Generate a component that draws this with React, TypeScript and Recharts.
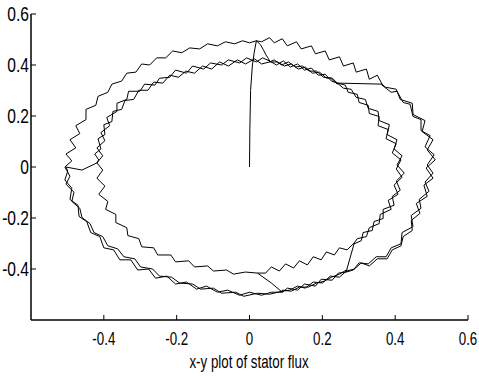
import { LineChart, Line, XAxis, YAxis } from "recharts";

type Pt = [number, number];

// tick values
const xTicks = [-0.4, -0.2, 0, 0.2, 0.4, 0.6];
const yTicks = [-0.4, -0.2, 0, 0.2, 0.4, 0.6];
const xTitle = "x-y plot of stator flux";

// stator flux locus (x = psi_alpha, y = psi_beta)
const startUp: Pt[] = [[0, 0], [0.001, 0.15], [0.003, 0.3], [0.008, 0.4], [0.013, 0.45], [0.019, 0.495]];

const outerTopLeft: Pt[] = [
  [0.019, 0.495], [0.0, 0.487], [-0.019, 0.495], [-0.041, 0.483], [-0.066, 0.491], [-0.088, 0.475],
  [-0.115, 0.483], [-0.137, 0.463], [-0.164, 0.467], [-0.186, 0.448], [-0.211, 0.455], [-0.23, 0.428],
  [-0.255, 0.428], [-0.274, 0.4], [-0.296, 0.404], [-0.312, 0.372], [-0.337, 0.368], [-0.351, 0.337],
  [-0.378, 0.325], [-0.389, 0.293], [-0.416, 0.277], [-0.422, 0.242], [-0.449, 0.226], [-0.449, 0.186],
  [-0.477, 0.162], [-0.466, 0.131], [-0.493, 0.107], [-0.477, 0.075], [-0.504, 0.051], [-0.488, 0.024],
  [-0.507, 0.0],
];

const outerLowerLeft1: Pt[] = [
  [-0.493, -0.036], [-0.504, -0.067], [-0.482, -0.099], [-0.488, -0.135], [-0.466, -0.162], [-0.46, -0.198],
  [-0.438, -0.222], [-0.427, -0.257], [-0.403, -0.273], [-0.389, -0.309], [-0.362, -0.321], [-0.345, -0.352],
  [-0.315, -0.36], [-0.299, -0.392], [-0.266, -0.4], [-0.247, -0.428], [-0.214, -0.432], [-0.192, -0.455],
  [-0.156, -0.459], [-0.134, -0.479], [-0.099, -0.475], [-0.077, -0.495], [-0.038, -0.491], [-0.016, -0.507],
  [0.022, -0.495], [0.055, -0.499], [0.09, -0.487],
];

const outerLowerLeft2: Pt[] = [
  [0.09, -0.491], [0.06, -0.491], [0.033, -0.503], [0.0, -0.491], [-0.027, -0.503], [-0.06, -0.483],
  [-0.088, -0.491], [-0.118, -0.467], [-0.145, -0.479], [-0.173, -0.451], [-0.203, -0.459], [-0.227, -0.428],
  [-0.258, -0.436], [-0.277, -0.4], [-0.307, -0.404], [-0.326, -0.364], [-0.356, -0.364], [-0.373, -0.325],
  [-0.4, -0.317], [-0.411, -0.273], [-0.436, -0.257], [-0.447, -0.214], [-0.468, -0.194], [-0.471, -0.15],
  [-0.493, -0.127], [-0.488, -0.083], [-0.507, -0.051], [-0.499, -0.016], [-0.504, 0.0],
];

const outerBottom1: Pt[] = [
  [0.11, -0.483], [0.132, -0.467], [0.153, -0.475], [0.175, -0.451], [0.2, -0.455], [0.222, -0.428],
  [0.247, -0.432], [0.266, -0.408],
];
const outerBottom2: Pt[] = [
  [0.266, -0.412], [0.244, -0.416], [0.227, -0.444], [0.197, -0.44], [0.181, -0.467], [0.151, -0.459],
  [0.132, -0.483], [0.104, -0.475], [0.09, -0.491],
];
const outerBottom3: Pt[] = [
  [0.266, -0.404], [0.247, -0.42], [0.225, -0.432], [0.205, -0.448], [0.184, -0.455], [0.162, -0.471],
  [0.137, -0.471], [0.115, -0.487], [0.09, -0.483],
];

const outerRight1: Pt[] = [
  [0.288, -0.4], [0.307, -0.376], [0.329, -0.388], [0.351, -0.36], [0.378, -0.36], [0.392, -0.325],
  [0.416, -0.309], [0.422, -0.273], [0.447, -0.249], [0.444, -0.21], [0.468, -0.182], [0.458, -0.143],
  [0.488, -0.115], [0.479, -0.071], [0.504, -0.044], [0.485, -0.004], [0.51, 0.028], [0.488, 0.067],
  [0.504, 0.107], [0.474, 0.139], [0.482, 0.182], [0.449, 0.206], [0.447, 0.25], [0.414, 0.265],
  [0.403, 0.305], [0.373, 0.313], [0.364, 0.325],
];
const outerRight2: Pt[] = [
  [0.364, 0.321], [0.389, 0.293], [0.405, 0.297], [0.422, 0.253], [0.441, 0.246], [0.449, 0.198],
  [0.471, 0.186], [0.471, 0.143], [0.496, 0.123], [0.482, 0.079], [0.507, 0.048], [0.488, 0.008],
  [0.504, -0.024], [0.482, -0.059], [0.493, -0.095], [0.466, -0.127], [0.471, -0.162], [0.444, -0.19],
  [0.449, -0.234], [0.419, -0.257], [0.416, -0.301], [0.389, -0.317], [0.375, -0.352], [0.348, -0.352],
  [0.326, -0.38], [0.301, -0.376], [0.285, -0.404], [0.266, -0.412],
];

const outerTopRight: Pt[] = [
  [0.351, 0.36], [0.329, 0.344], [0.321, 0.384], [0.293, 0.372], [0.285, 0.408], [0.258, 0.396],
  [0.247, 0.432], [0.219, 0.42], [0.208, 0.455], [0.181, 0.444], [0.17, 0.475], [0.142, 0.463],
  [0.129, 0.491], [0.104, 0.475], [0.09, 0.503], [0.068, 0.487], [0.055, 0.507], [0.033, 0.491],
  [0.019, 0.495],
];

const descent: Pt[] = [[0.03, 0.48], [0.038, 0.46], [0.045, 0.44], [0.052, 0.425], [0.055, 0.416]];

const innerTopRight1: Pt[] = [
  [0.074, 0.4], [0.093, 0.416], [0.112, 0.392], [0.132, 0.404], [0.151, 0.38], [0.17, 0.388],
  [0.189, 0.36], [0.208, 0.364], [0.225, 0.337], [0.241, 0.329],
];
const innerTopRight2: Pt[] = [
  [0.055, 0.412], [0.077, 0.412], [0.096, 0.396], [0.115, 0.404], [0.134, 0.384], [0.153, 0.392],
  [0.173, 0.368], [0.192, 0.372], [0.211, 0.349], [0.227, 0.349], [0.241, 0.329],
];
const innerTopRight3: Pt[] = [
  [0.241, 0.325], [0.222, 0.349], [0.203, 0.352], [0.184, 0.376], [0.164, 0.376], [0.145, 0.396],
  [0.126, 0.392], [0.107, 0.412], [0.088, 0.4], [0.068, 0.42], [0.055, 0.412],
];

const innerRight1: Pt[] = [
  [0.263, 0.321], [0.271, 0.293], [0.296, 0.285], [0.301, 0.253], [0.326, 0.242], [0.329, 0.21],
  [0.356, 0.198], [0.353, 0.162], [0.381, 0.147], [0.375, 0.111], [0.403, 0.091], [0.392, 0.055],
  [0.416, 0.028], [0.403, -0.008], [0.419, -0.04], [0.397, -0.071], [0.408, -0.107], [0.381, -0.131],
  [0.389, -0.166], [0.359, -0.186], [0.356, -0.222], [0.329, -0.238], [0.321, -0.273], [0.296, -0.281],
  [0.288, -0.297],
];
const innerRight2: Pt[] = [
  [0.288, -0.301], [0.307, -0.289], [0.312, -0.257], [0.337, -0.249], [0.342, -0.214], [0.367, -0.202],
  [0.367, -0.166], [0.397, -0.15], [0.392, -0.115], [0.414, -0.091], [0.403, -0.055], [0.425, -0.024],
  [0.405, 0.008], [0.419, 0.044], [0.397, 0.071], [0.405, 0.107], [0.378, 0.127], [0.384, 0.166],
  [0.356, 0.182], [0.353, 0.218], [0.326, 0.23], [0.318, 0.265], [0.293, 0.273], [0.279, 0.305],
  [0.258, 0.309], [0.241, 0.329],
];

const innerBottomRight: Pt[] = [
  [0.022, -0.416], [0.044, -0.416], [0.06, -0.392], [0.082, -0.408], [0.099, -0.38], [0.121, -0.396],
  [0.137, -0.368], [0.159, -0.384], [0.175, -0.352], [0.197, -0.364], [0.211, -0.333], [0.233, -0.345],
  [0.247, -0.317], [0.268, -0.325], [0.288, -0.297],
];

const innerTopLeft1: Pt[] = [
  [-0.419, 0.016], [-0.403, 0.044], [-0.419, 0.075], [-0.397, 0.103], [-0.408, 0.135], [-0.384, 0.162],
  [-0.392, 0.194], [-0.364, 0.218], [-0.364, 0.25], [-0.337, 0.265], [-0.332, 0.297], [-0.301, 0.297],
  [-0.288, 0.325], [-0.26, 0.321], [-0.247, 0.348], [-0.219, 0.352], [-0.203, 0.38], [-0.173, 0.368],
  [-0.156, 0.396], [-0.126, 0.384], [-0.107, 0.408], [-0.077, 0.4], [-0.058, 0.42], [-0.027, 0.408],
  [-0.008, 0.428], [0.019, 0.412], [0.036, 0.428], [0.055, 0.416],
];
const innerTopLeft2: Pt[] = [
  [0.055, 0.412], [0.033, 0.404], [0.014, 0.424], [-0.011, 0.404], [-0.033, 0.42], [-0.058, 0.396],
  [-0.082, 0.412], [-0.104, 0.384], [-0.129, 0.396], [-0.151, 0.368], [-0.175, 0.376], [-0.195, 0.352],
  [-0.219, 0.36], [-0.238, 0.329], [-0.263, 0.333], [-0.279, 0.301], [-0.304, 0.301], [-0.318, 0.265],
  [-0.342, 0.261], [-0.351, 0.226], [-0.375, 0.218], [-0.378, 0.178], [-0.4, 0.166], [-0.397, 0.127],
  [-0.416, 0.111], [-0.408, 0.071], [-0.425, 0.051], [-0.414, 0.028], [-0.419, 0.016],
];

const innerLowerLeft: Pt[] = [
  [-0.403, -0.012], [-0.419, -0.044], [-0.397, -0.075], [-0.414, -0.107], [-0.389, -0.135], [-0.395, -0.166],
  [-0.367, -0.186], [-0.367, -0.218], [-0.337, -0.238], [-0.334, -0.269], [-0.304, -0.281], [-0.296, -0.313],
  [-0.263, -0.317], [-0.252, -0.345], [-0.216, -0.345], [-0.203, -0.372], [-0.167, -0.368], [-0.151, -0.392],
  [-0.115, -0.388], [-0.099, -0.408], [-0.063, -0.404], [-0.044, -0.42], [-0.011, -0.412], [0.022, -0.416],
];

// short jumps between the two rings
const jumpLeft: Pt[] = [[-0.46, -0.012], [-0.419, 0.016]];
const jumpBottom: Pt[] = [[0.06, -0.455], [0.022, -0.416]];
const jumpTop: Pt[] = [[0.241, 0.329], [0.364, 0.325]];
const jumpRight: Pt[] = [[0.288, -0.297], [0.266, -0.408]];

const locus: Pt[] = [
  ...startUp,
  ...outerTopLeft,
  ...outerLowerLeft1,
  ...outerBottom1,
  ...outerRight1,
  ...outerTopRight,
  ...descent,
  ...innerTopRight1,
  ...innerRight1,
  ...jumpRight,
  ...outerBottom2,
  ...jumpBottom,
  ...innerBottomRight,
  ...innerRight2,
  ...jumpTop,
  ...outerRight2,
  ...outerBottom3,
  ...outerLowerLeft2,
  ...jumpLeft,
  ...innerTopLeft1,
  ...innerTopRight2,
  ...innerTopRight3,
  ...innerTopLeft2,
  ...innerLowerLeft,
];

const data = locus.map(([x, y]) => ({ x, y }));

// narrow helvetica look: regular sans squeezed horizontally
const FONT = "'Liberation Sans', Arial, sans-serif";
const SQUEEZE = 0.74;
const BOX = { left: 31, right: 468, top: 14, bottom: 320 };
const fmt = (v: number) => (v === 0 ? "0" : String(Math.round(v * 10) / 10));

function BottomTick({ x, payload }: any) {
  return (
    <g>
      <line x1={x} x2={x} y1={BOX.bottom} y2={BOX.bottom - 5} stroke="#000" />
      <text
        transform={`translate(${x},345) scale(${SQUEEZE},1)`}
        textAnchor="middle"
        fontSize={18}
        fontFamily={FONT}
        fill="#000"
      >
        {fmt(payload.value)}
      </text>
    </g>
  );
}

function TopTick({ x }: any) {
  return <line x1={x} x2={x} y1={BOX.top} y2={BOX.top + 5} stroke="#000" />;
}

function LeftTick({ y, payload }: any) {
  return (
    <g>
      <line x1={BOX.left} x2={BOX.left + 5} y1={y} y2={y} stroke="#000" />
      <text
        transform={`translate(29,${y + 7}) scale(0.8,1)`}
        textAnchor="end"
        fontSize={19.5}
        fontFamily={FONT}
        fill="#000"
      >
        {fmt(payload.value)}
      </text>
    </g>
  );
}

function RightTick({ y }: any) {
  return <line x1={BOX.right} x2={BOX.right - 5} y1={y} y2={y} stroke="#000" />;
}

function TitleLabel() {
  return (
    <text
      transform={`translate(249,368) scale(${SQUEEZE},1)`}
      textAnchor="middle"
      fontSize={18}
      fontFamily={FONT}
      fill="#000"
    >
      {xTitle}
    </text>
  );
}

export default function App() {
  return (
    <div style={{ position: "absolute", left: 0, top: 0, width: 479, height: 378, background: "#fff" }}>
      <LineChart width={479} height={378} data={data} margin={{ top: 14, right: 11, left: 0, bottom: 0 }}>
        <XAxis
          xAxisId="b"
          dataKey="x"
          type="number"
          domain={[-0.6, 0.6]}
          ticks={xTicks}
          allowDataOverflow
          height={58}
          axisLine={{ stroke: "#000", strokeWidth: 1.5 }}
          tickLine={false}
          tick={(p: any) => <BottomTick {...p} />}
          label={() => <TitleLabel />}
        />
        <XAxis
          xAxisId="t"
          orientation="top"
          dataKey="x"
          type="number"
          domain={[-0.6, 0.6]}
          ticks={xTicks}
          allowDataOverflow
          height={0}
          axisLine={{ stroke: "#000", strokeWidth: 1.5 }}
          tickLine={false}
          tick={(p: any) => <TopTick {...p} />}
        />
        <YAxis
          yAxisId="l"
          type="number"
          domain={[-0.6, 0.6]}
          ticks={yTicks}
          allowDataOverflow
          width={31}
          axisLine={{ stroke: "#000", strokeWidth: 1.5 }}
          tickLine={false}
          tick={(p: any) => <LeftTick {...p} />}
        />
        <YAxis
          yAxisId="r"
          orientation="right"
          type="number"
          domain={[-0.6, 0.6]}
          ticks={yTicks}
          allowDataOverflow
          width={0}
          axisLine={{ stroke: "#000", strokeWidth: 1.5 }}
          tickLine={false}
          tick={(p: any) => <RightTick {...p} />}
        />
        <Line
          xAxisId="b"
          yAxisId="l"
          dataKey="y"
          type="linear"
          stroke="#000"
          strokeWidth={1}
          dot={false}
          isAnimationActive={false}
        />
      </LineChart>
    </div>
  );
}
